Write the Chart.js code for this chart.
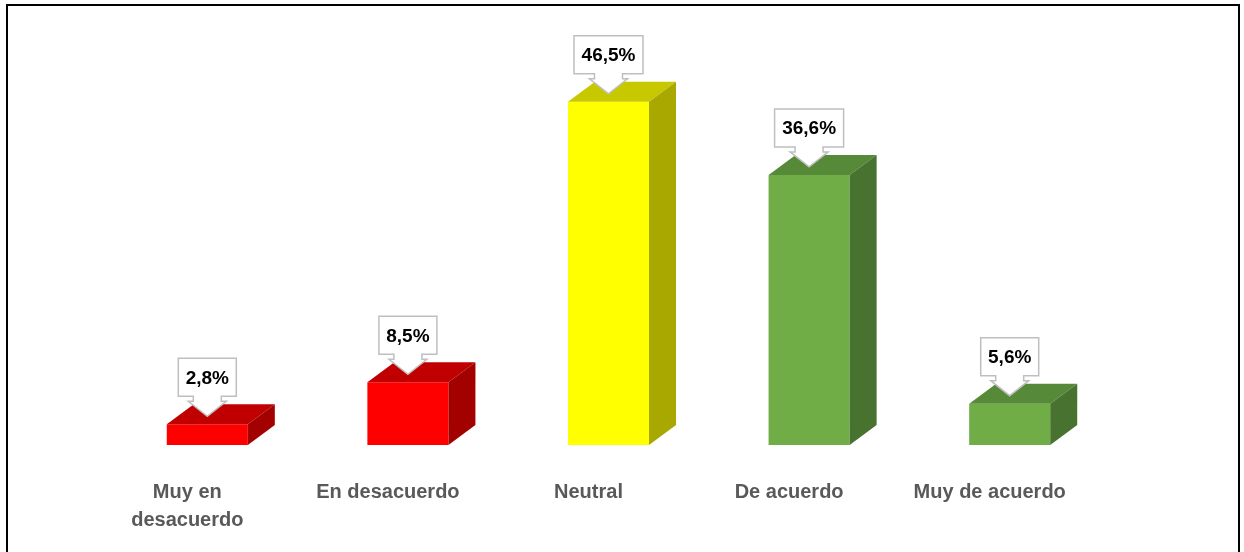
<!DOCTYPE html>
<html>
<head>
<meta charset="utf-8">
<script src="https://cdn.jsdelivr.net/npm/chart.js@4/dist/chart.umd.min.js"></script>
<style>
    html, body { margin: 0; padding: 0; background: #fff; }
    #wrap { position: relative; width: 1244px; height: 552px; overflow: hidden; }
    #frame {
        position: absolute; left: 6px; top: 4px; width: 1234px; height: 600px;
        border: 2px solid #000; box-sizing: border-box;
    }
    canvas { position: absolute; left: 0; top: 0; }
</style>
</head>
<body>
<div id="wrap">
    <div id="frame"></div>
    <canvas id="chart" width="1244" height="552"></canvas>
</div>
<script>
// ── Data ──────────────────────────────────────────────────────
const categories = [['Muy en', 'desacuerdo'], 'En desacuerdo', 'Neutral', 'De acuerdo', 'Muy de acuerdo'];
const percents   = [2.8, 8.5, 46.5, 36.6, 5.6];

// front / top / side shades per bar
const frontColors = ['#ff0000', '#ff0000', '#ffff00', '#70ad47', '#70ad47'];
const topColors   = ['#c00000', '#c00000', '#c8c800', '#578a38', '#578a38'];
const sideColors  = ['#a30000', '#a30000', '#a8a800', '#487230', '#487230'];

const DEPTH_X = 27;
const DEPTH_Y = 20;

// ── 3D faces + callout labels ─────────────────────────────────
const bar3d = {
    id: 'bar3d',
    afterDatasetsDraw(chart) {
        const ctx  = chart.ctx;
        const meta = chart.getDatasetMeta(0);
        meta.data.forEach((bar, i) => {
            const left  = bar.x - bar.width / 2;
            const right = bar.x + bar.width / 2;
            const top   = bar.y;
            const base  = bar.base;

            // top face
            ctx.fillStyle = topColors[i];
            ctx.beginPath();
            ctx.moveTo(left, top);
            ctx.lineTo(right, top);
            ctx.lineTo(right + DEPTH_X, top - DEPTH_Y);
            ctx.lineTo(left + DEPTH_X, top - DEPTH_Y);
            ctx.closePath();
            ctx.fill();

            // right side face
            ctx.fillStyle = sideColors[i];
            ctx.beginPath();
            ctx.moveTo(right, top);
            ctx.lineTo(right + DEPTH_X, top - DEPTH_Y);
            ctx.lineTo(right + DEPTH_X, base - DEPTH_Y);
            ctx.lineTo(right, base);
            ctx.closePath();
            ctx.fill();

            drawCallout(ctx, bar.x, top - 8, percents[i].toFixed(1).replace('.', ',') + '%');
        });
    }
};

function drawCallout(ctx, tipX, tipY, text) {
    ctx.font = 'bold 19px "Liberation Sans", Arial, sans-serif';
    const tw   = ctx.measureText(text).width;
    const w    = Math.round(tw + 15);
    const h    = 38;
    const head = 15, stem = 5;
    const stemHalf = 14, headHalf = 19;
    const boxBottom = tipY - head - stem;
    const boxTop    = boxBottom - h;
    const l = tipX - w / 2, r = tipX + w / 2;

    ctx.beginPath();
    ctx.moveTo(l, boxTop);
    ctx.lineTo(r, boxTop);
    ctx.lineTo(r, boxBottom);
    ctx.lineTo(tipX + stemHalf, boxBottom);
    ctx.lineTo(tipX + stemHalf, boxBottom + stem);
    ctx.lineTo(tipX + headHalf, boxBottom + stem);
    ctx.lineTo(tipX, tipY);
    ctx.lineTo(tipX - headHalf, boxBottom + stem);
    ctx.lineTo(tipX - stemHalf, boxBottom + stem);
    ctx.lineTo(tipX - stemHalf, boxBottom);
    ctx.lineTo(l, boxBottom);
    ctx.closePath();
    ctx.fillStyle = '#ffffff';
    ctx.fill();
    ctx.strokeStyle = '#bfbfbf';
    ctx.lineWidth = 1.5;
    ctx.stroke();

    ctx.fillStyle = '#000000';
    ctx.textAlign = 'center';
    ctx.textBaseline = 'middle';
    ctx.fillText(text, tipX, boxTop + h / 2 + 1);
}

// ── Chart init ────────────────────────────────────────────────
new Chart(document.getElementById('chart'), {
    type: 'bar',
    data: {
        labels: categories,
        datasets: [{
            data: percents,
            backgroundColor: frontColors,
            borderWidth: 0,
            categoryPercentage: 0.8,
            barPercentage: 0.505
        }]
    },
    options: {
        responsive: false,
        animation: false,
        layout: { padding: { left: 107, right: 134, top: 76, bottom: 0 } },
        plugins: { legend: { display: false }, tooltip: { enabled: false } },
        scales: {
            x: {
                grid: { display: false, drawTicks: false },
                border: { display: false },
                afterFit(scale) { scale.height = 107; },
                ticks: {
                    color: '#595959',
                    font: { family: '"Liberation Sans", Arial, sans-serif', size: 20, weight: 'bold', lineHeight: 1.4 },
                    padding: 33,
                    labelOffset: -20,
                    maxRotation: 0,
                    autoSkip: false
                }
            },
            y: {
                display: false,
                min: 0,
                max: 50
            }
        }
    },
    plugins: [bar3d]
});
</script>
</body>
</html>
